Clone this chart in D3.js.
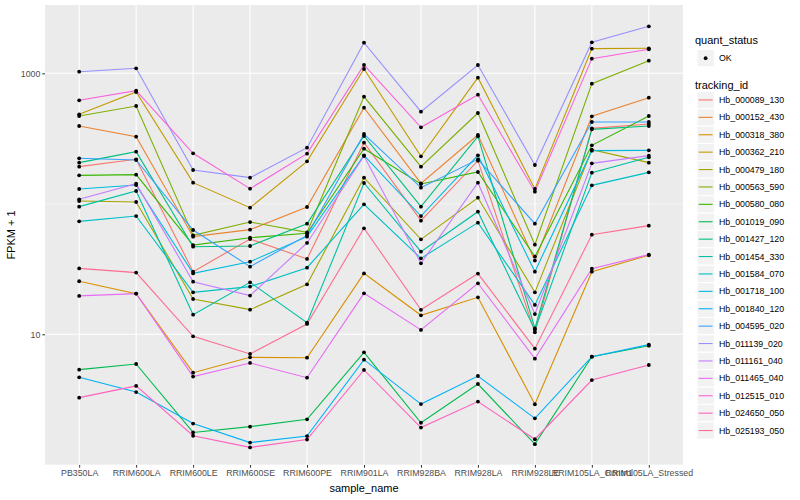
<!DOCTYPE html>
<html>
<head>
<meta charset="utf-8">
<script src="https://cdn.jsdelivr.net/npm/d3@7"></script>
<style>
  body { margin: 0; background: #fff; }
  text { font-family: "Liberation Sans", Arial, sans-serif; }
</style>
</head>
<body>
<svg id="chart" width="800" height="500"></svg>
<script>
//////////////////////////////////////////////////////////////////////////////
// data (FPKM + 1)
var samples = ["PB350LA","RRIM600LA","RRIM600LE","RRIM600SE","RRIM600PE","RRIM901LA",
  "RRIM928BA","RRIM928LA","RRIM928LE","RRIM105LA_Control","RRIM105LA_Stressed"];

var trackingIds = ["Hb_000089_130","Hb_000152_430","Hb_000318_380","Hb_000362_210","Hb_000479_180",
  "Hb_000563_590","Hb_000580_080","Hb_001019_090","Hb_001427_120","Hb_001454_330",
  "Hb_001584_070","Hb_001718_100","Hb_001840_120","Hb_004595_020","Hb_011139_020",
  "Hb_011161_040","Hb_011465_040","Hb_012515_010","Hb_024650_050","Hb_025193_050"];

var fpkmPlus1 = [
  [192.6, 219.2, 30.2, 53.7, 37.8, 294.1, 74.3, 214.0, 10.35, 378.7, 408.8],
  [394.7, 326.9, 56.0, 63.4, 94.5, 545.4, 143.5, 336.6, 36.7, 468.2, 650.6],
  [25.5, 20.5, 5.08, 6.66, 6.62, 29.3, 13.98, 19.2, 2.91, 30.2, 40.3],
  [484.9, 719, 145.2, 93.4, 211.5, 1079, 231.1, 925.8, 129.9, 1545, 1554],
  [105.1, 103.2, 18.64, 15.45, 24.15, 158.6, 53.4, 111.4, 20.97, 259.8, 206.7],
  [470.9, 561.6, 57.3, 72.5, 60.5, 662.2, 192.6, 496.4, 48.6, 832.8, 1250],
  [165.2, 167.2, 48.3, 55.0, 59.4, 264.5, 141.8, 175.3, 39.4, 280.5, 470.9],
  [5.36, 5.92, 1.77, 1.96, 2.23, 7.27, 2.10, 4.16, 1.44, 6.74, 8.18],
  [206.7, 250.9, 46.9, 47.5, 70.4, 330.7, 95.1, 328.9, 11.1, 372.1, 394.7],
  [95.1, 125.3, 14.14, 25.0, 12.28, 144.3, 43.0, 87.0, 10.8, 173.2, 227.1],
  [73.4, 80.6, 20.97, 23.2, 32.4, 99.1, 38.2, 71.7, 16.8, 138.5, 174.2],
  [129.9, 139.3, 29.3, 36.0, 56.0, 235.2, 80.6, 235.2, 30.2, 255.4, 256.8],
  [4.68, 3.61, 2.07, 1.48, 1.66, 6.39, 2.92, 4.79, 2.27, 6.74, 8.33],
  [223.1, 216.6, 63.0, 33.0, 57.3, 342.6, 132.9, 219.2, 70.4, 423.4, 423.4],
  [1029, 1092, 181.6, 158.6, 269.3, 1717, 508, 1158, 198.3, 1727, 2290],
  [108.2, 142.7, 25.3, 19.8, 50.1, 232.5, 35.0, 145.2, 14.3, 204.2, 233.8],
  [19.7, 20.5, 4.74, 6.03, 4.65, 20.6, 10.8, 24.6, 6.51, 31.8, 40.8],
  [620.7, 736, 243.6, 130.6, 242.2, 1158, 385.5, 686, 123.9, 1295, 1527],
  [3.27, 4.02, 1.67, 1.36, 1.56, 5.33, 1.93, 3.05, 1.57, 4.46, 5.82],
  [32.0, 29.7, 9.65, 7.07, 12.0, 64.9, 15.4, 29.2, 7.76, 58.0, 68.0]
];

var yMajor = [10, 1000];
var yMinor = [1, 100];
var quantStatus = ["OK"];

// ggplot hue palette, 20 levels
var palette = ["#F8766D","#EA8331","#D89000","#C09B00","#A3A500","#7CAE00","#39B600","#00BB4E",
  "#00BF7D","#00C1A3","#00BFC4","#00BAE0","#00B0F6","#35A2FF","#9590FF","#C77CFF",
  "#E76BF3","#FA62DB","#FF62BC","#FF6C91"];

//////////////////////////////////////////////////////////////////////////////
// layout
var P = {left: 45, top: 5, right: 683, bottom: 465};
var svg = d3.select("#chart");

var x = d3.scalePoint().domain(samples).range([P.left, P.right]).padding(0.6);
var y = d3.scaleLog().domain([0.9966, 3337]).range([P.bottom, P.top]);
var color = d3.scaleOrdinal().domain(trackingIds).range(palette);

svg.append("rect")
  .attr("x", P.left).attr("y", P.top)
  .attr("width", P.right - P.left).attr("height", P.bottom - P.top)
  .style("fill", "#EBEBEB");

var grid = svg.append("g");
grid.selectAll(".minor").data(yMinor).enter().append("line")
  .attr("x1", P.left).attr("x2", P.right)
  .attr("y1", function(d){ return y(d); }).attr("y2", function(d){ return y(d); })
  .style("stroke", "#fff").style("stroke-width", 0.55);
grid.selectAll(".majorY").data(yMajor).enter().append("line")
  .attr("x1", P.left).attr("x2", P.right)
  .attr("y1", function(d){ return y(d); }).attr("y2", function(d){ return y(d); })
  .style("stroke", "#fff").style("stroke-width", 1.1);
grid.selectAll(".majorX").data(samples).enter().append("line")
  .attr("y1", P.top).attr("y2", P.bottom)
  .attr("x1", function(d){ return x(d); }).attr("x2", function(d){ return x(d); })
  .style("stroke", "#fff").style("stroke-width", 1.1);

// lines then points
var series = trackingIds.map(function(id, i){
  return {id: id, values: fpkmPlus1[i].map(function(v, j){ return [samples[j], v]; })};
});
var line = d3.line()
  .x(function(d){ return x(d[0]); })
  .y(function(d){ return y(d[1]); });

svg.append("g").selectAll("path").data(series).enter().append("path")
  .attr("d", function(s){ return line(s.values); })
  .style("fill", "none")
  .style("stroke", function(s){ return color(s.id); })
  .style("stroke-width", 1.1);

var pts = [];
series.forEach(function(s){ s.values.forEach(function(v){ pts.push(v); }); });
svg.append("g").selectAll("circle").data(pts).enter().append("circle")
  .attr("cx", function(d){ return x(d[0]); })
  .attr("cy", function(d){ return y(d[1]); })
  .attr("r", 1.9)
  .style("fill", "#000");

// axes
var xAxis = svg.append("g").attr("transform", "translate(0," + P.bottom + ")")
  .call(d3.axisBottom(x).tickSize(2.7).tickPadding(2));
var yAxis = svg.append("g").attr("transform", "translate(" + P.left + ",0)")
  .call(d3.axisLeft(y).tickValues(yMajor).tickFormat(d3.format("d")).tickSize(2.7).tickPadding(2));
[xAxis, yAxis].forEach(function(a){
  a.select(".domain").remove();
  a.selectAll(".tick line").style("stroke", "#333").style("stroke-width", 1);
  a.selectAll(".tick text").style("fill", "#4D4D4D").style("font-size", "8.8px")
    .style("font-family", "'Liberation Sans', Arial, sans-serif");
});

svg.append("text")
  .attr("x", (P.left + P.right) / 2).attr("y", 492)
  .attr("text-anchor", "middle")
  .style("font-size", "11px").text("sample_name");
svg.append("text")
  .attr("transform", "translate(15," + (P.top + P.bottom) / 2 + ") rotate(-90)")
  .attr("text-anchor", "middle")
  .style("font-size", "11px").text("FPKM + 1");

//////////////////////////////////////////////////////////////////////////////
// legends
var lg = svg.append("g").attr("transform", "translate(695,0)");
lg.append("text").attr("x", 0).attr("y", 44).style("font-size", "11px").text("quant_status");
var qk = lg.selectAll(".qk").data(quantStatus).enter().append("g")
  .attr("transform", function(d, i){ return "translate(2," + (49.5 + i * 17.4) + ")"; });
qk.append("rect").attr("width", 17.3).attr("height", 17.3).style("fill", "#F2F2F2").style("stroke", "#fff");
qk.append("circle").attr("cx", 8.65).attr("cy", 8.65).attr("r", 1.9).style("fill", "#000");
qk.append("text").attr("x", 22).attr("y", 11.8).style("font-size", "8.8px").text(function(d){ return d; });

lg.append("text").attr("x", 0).attr("y", 89).style("font-size", "11px").text("tracking_id");
var tk = lg.selectAll(".tk").data(trackingIds).enter().append("g")
  .attr("transform", function(d, i){ return "translate(2," + (91.3 + i * 17.4) + ")"; });
tk.append("rect").attr("width", 17.3).attr("height", 17.3).style("fill", "#F2F2F2").style("stroke", "#fff");
tk.append("line").attr("x1", 1.7).attr("x2", 15.6).attr("y1", 8.65).attr("y2", 8.65)
  .style("stroke", function(d){ return color(d); }).style("stroke-width", 1.1);
tk.append("text").attr("x", 22).attr("y", 11.8).style("font-size", "8.8px").text(function(d){ return d; });
</script>
</body>
</html>
